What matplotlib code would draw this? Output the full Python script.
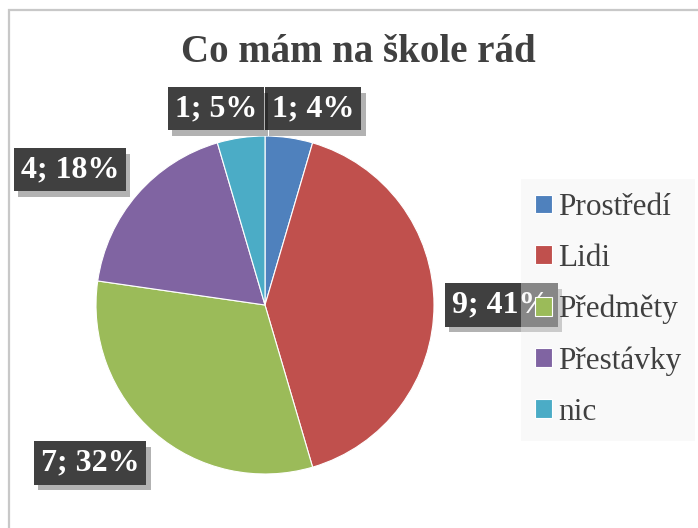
import matplotlib
matplotlib.use("Agg")
import matplotlib.pyplot as plt
import matplotlib.patheffects as pe
from matplotlib.patches import Rectangle
import numpy as np

categories = ["Prostředí", "Lidi", "Předměty", "Přestávky", "nic"]
values = [1, 9, 7, 4, 1]
percent_labels = ["4%", "41%", "32%", "18%", "5%"]
colors = ["#4F81BD", "#C0504D", "#9BBB59", "#8064A2", "#4BACC6"]
title = "Co mám na škole rád"

# label positions (relative to pie centre, in radius units)
label_pos = [(0.285, 1.16), (1.40, 0.0), (-1.035, -0.935), (-1.155, 0.80), (-0.29, 1.16)]

W, H = 698, 528
fig = plt.figure(figsize=(W / 100, H / 100), dpi=100)
fig.patch.set_facecolor("white")

# chart area border
fig.add_artist(Rectangle((8.5 / W, -0.1), 1.2, 1 - 9.5 / H + 0.1, transform=fig.transFigure,
                         fill=False, edgecolor="#c8c8c8", linewidth=1.6))

fig.text(358 / W, 1 - 52 / H, title, ha="center", va="center", fontsize=28,
         fontweight="bold", family="Liberation Serif", color="#404040")

cx, cy, r = 265, 305, 169
ax = fig.add_axes([(cx - r) / W, (H - cy - r) / H, 2 * r / W, 2 * r / H])

wedges, _ = ax.pie(values, colors=colors, startangle=90, counterclock=False, radius=1,
                   wedgeprops=dict(linewidth=0.8, edgecolor="white"))
ax.set_xlim(-1, 1)
ax.set_ylim(-1, 1)
ax.set_aspect("equal")
ax.axis("off")

for v, p, (lx, ly) in zip(values, percent_labels, label_pos):
    t = ax.text(lx, ly, f"{v}; {p}", ha="center", va="center", fontsize=23,
                fontweight="bold", family="Liberation Serif", color="white", zorder=4,
                clip_on=False,
                bbox=dict(boxstyle="square,pad=0.22", facecolor="#404040", edgecolor="none"))
    t.get_bbox_patch().set_path_effects([pe.withSimplePatchShadow(offset=(3, -4), shadow_rgbFace="#000000", alpha=0.3)])

leg = fig.legend(wedges, categories, loc="upper left",
                 bbox_to_anchor=(521 / W, 1 - 179 / H), frameon=True, fancybox=False,
                 prop=dict(family="Liberation Serif", size=22.5),
                 handlelength=0.55, handleheight=0.55, handletextpad=0.18,
                 labelspacing=0.70, borderpad=0.45, borderaxespad=0)
leg.get_frame().set_facecolor("#f2f2f2")
leg.get_frame().set_alpha(0.4)
leg.get_frame().set_edgecolor("none")
leg.set_zorder(10)
for txt in leg.get_texts():
    txt.set_color("#404040")

fig.savefig("out.png", dpi=100)
